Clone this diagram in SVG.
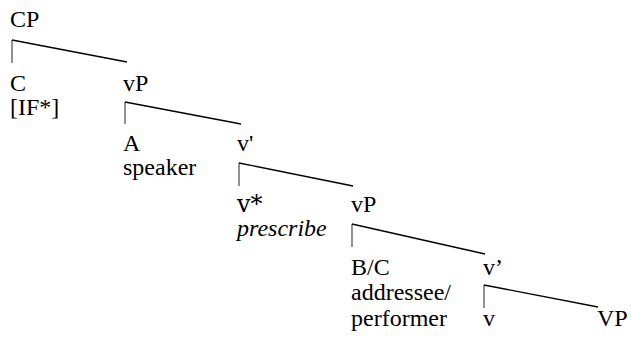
<svg xmlns="http://www.w3.org/2000/svg" width="631" height="342" viewBox="0 0 631 342">
<rect width="631" height="342" fill="#fff"/>
<g id="connectors">
<path stroke="#555" stroke-width="1.3" fill="none" d="M12,40 V63"/><path stroke="#000" stroke-width="1.3" fill="none" d="M12,40 L127,62"/>
<path stroke="#555" stroke-width="1.3" fill="none" d="M125,102 V124"/><path stroke="#000" stroke-width="1.3" fill="none" d="M125,102 L241,124"/>
<path stroke="#555" stroke-width="1.3" fill="none" d="M239,163 V186"/><path stroke="#000" stroke-width="1.3" fill="none" d="M239,163 L353,186"/>
<path stroke="#555" stroke-width="1.3" fill="none" d="M352,224 V247"/><path stroke="#000" stroke-width="1.3" fill="none" d="M352,224 L485,254"/>
<path stroke="#555" stroke-width="1.3" fill="none" d="M484,285 V308"/><path stroke="#000" stroke-width="1.3" fill="none" d="M484,285 L598,307"/>
</g>
<text x="10" y="27" font-size="24" font-family="Liberation Serif">CP</text>
<g id="C"><text x="10" y="91" font-size="24" font-family="serif">C</text><text x="10" y="115" font-size="24" font-family="serif">[IF*]</text></g>
<g id="vP1"><text x="123" y="91" font-size="24" font-family="Times New Roman">vP</text></g>
<g id="A"><text x="123" y="151" font-size="24" font-family="Liberation Serif">A</text><text x="123" y="175" font-size="24" font-family="Liberation Serif">speaker</text></g>
<text x="237" y="151" font-size="24" font-family="Liberation Serif">v'</text>
<g id="vstar"><text x="237" y="212" font-size="24" font-family="DejaVu Serif">v*</text><text x="237" y="236" font-size="24" font-style="italic" font-family="Liberation Serif">prescribe</text></g>
<g id="vP2"><text x="351" y="212" font-size="24" font-family="Liberation Serif">vP</text></g>
<g id="BC"><text x="351" y="275" font-size="24" font-family="Liberation Serif">B/C</text><text x="351" y="300" font-size="24" font-family="Liberation Serif">addressee/</text><text x="351" y="326" font-size="24" font-family="Liberation Serif">performer</text></g>
<g id="v2"><text x="483" y="275" font-size="24" font-family="Liberation Serif">v’</text></g>
<g id="v3"><text x="483" y="326" font-size="24" font-family="Liberation Serif">v</text></g>
<g id="VP"><text x="597" y="326" font-size="24" font-family="Liberation Serif">VP</text></g>
</svg>
